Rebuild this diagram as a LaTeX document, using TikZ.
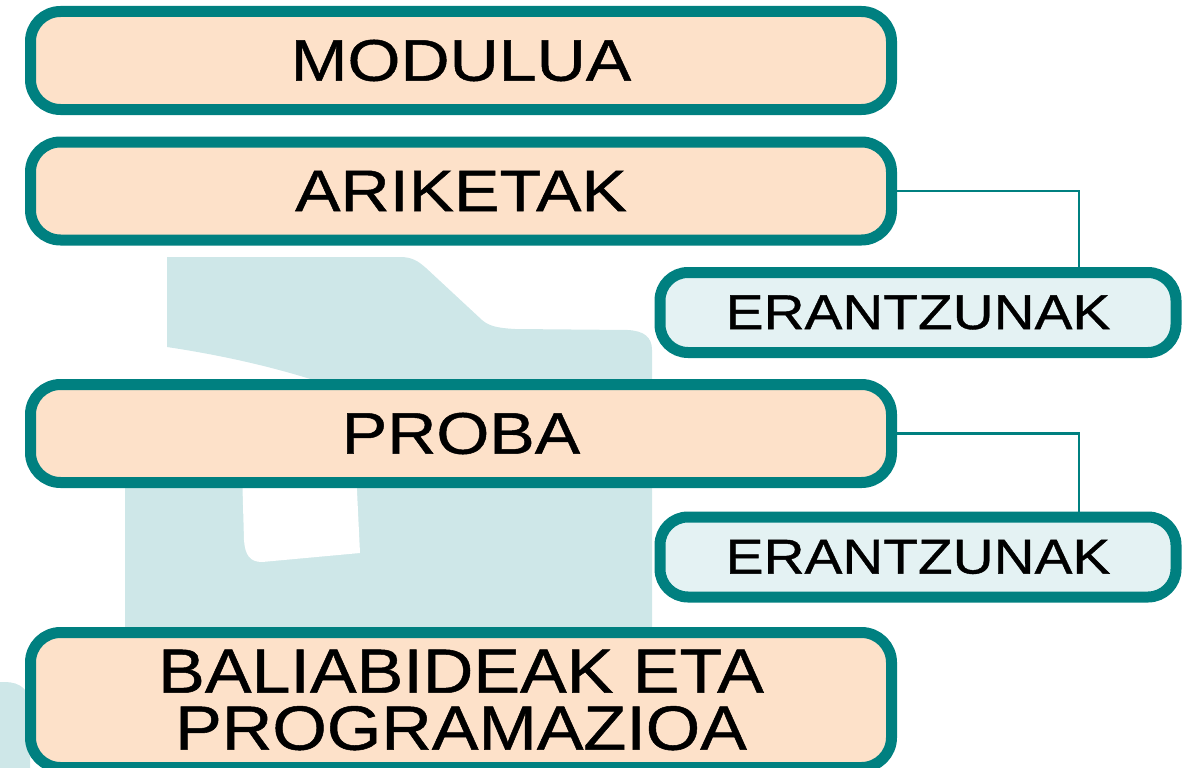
\documentclass[tikz,border=0pt]{standalone}
\usepackage{fontspec}
\setmainfont{Liberation Sans}[FakeStretch=1.16,FakeBold=0.8]
\newfontfamily\twolinefont{Liberation Sans}[FakeStretch=1.12,FakeBold=0.8]
\definecolor{boxline}{RGB}{0,128,128}
\definecolor{boxpeach}{RGB}{253,225,201}
\definecolor{boxpale}{RGB}{228,242,243}
\definecolor{shadeblue}{RGB}{206,231,232}

\begin{document}
\begin{tikzpicture}[x=1pt,y=-1pt]

    \tikzset{
      mainbox/.style={
        draw=boxline,
        line width=11pt,
        fill=boxpeach,
        rounded corners=30pt,
        inner sep=0pt,
        minimum width=861pt,
        minimum height=98pt,
        align=center,
        font=\fontsize{58.7}{59}\selectfont,
      },
      answerbox/.style={
        draw=boxline,
        line width=11pt,
        fill=boxpale,
        rounded corners=28pt,
        inner sep=0pt,
        minimum width=516pt,
        minimum height=80pt,
        font=\fontsize{48.9}{49}\selectfont,
      },
      link/.style={draw=boxline, line width=2.5pt},
    }
    \useasboundingbox (0,0) rectangle (1199,768);
    \clip (0,0) rectangle (1199,768);
	% pale letter behind the boxes
	\fill[shadeblue] (167,257) -- (400,257) .. controls (412,257) and (418,261) .. (426,268) -- (482,320) .. controls (489,326) and (497,328) .. (515,329) -- (628,330) .. controls (644,331) and (652,337) .. (652,350) -- (652,768) -- (125,768) -- (125,470) -- (320,470) -- (320,382) .. controls (270,366) and (220,355) .. (167,347) -- cycle;
	\fill[white] (242,470) -- (244,540) .. controls (245,555) and (250,562) .. (262,562) -- (360,553) -- (356,470) -- cycle;
	\fill[shadeblue] (0,682) -- (5,682) .. controls (20,682) and (30,690) .. (30,705) -- (30,768) -- (0,768) -- cycle;
	% boxes
	\node[mainbox] (modulua) at (461,60.5) {MODULUA};
	\node[mainbox] (ariketak) at (461,191) {ARIKETAK};
	\node[answerbox] (erantzunak1) at (918,312.5) {ERANTZUNAK};
	\node[mainbox] (proba) at (461,433.5) {PROBA};
	\node[answerbox] (erantzunak2) at (918,557) {ERANTZUNAK};
	\node[mainbox, minimum height=135pt, font=\twolinefont\fontsize{62.5}{57}\selectfont] (baliabideak) at (461,700) {BALIABIDEAK ETA\\PROGRAMAZIOA};
	% links
	\draw[link] (ariketak.east) -| ([xshift=161pt]erantzunak1.north);
	\draw[link] (proba.east) -| ([xshift=161pt]erantzunak2.north);

\end{tikzpicture}
\end{document}
